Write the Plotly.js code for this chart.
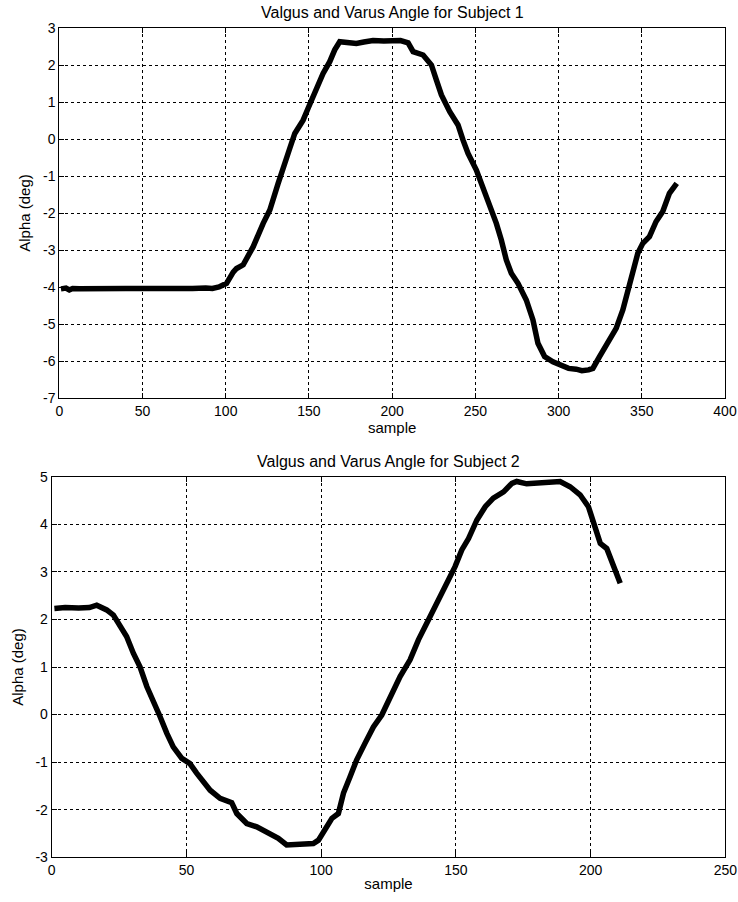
<!DOCTYPE html>
<html>
<head>
<meta charset="utf-8">
<script src="https://cdn.plot.ly/plotly-3.0.1.min.js"></script>
<style>html,body{margin:0;padding:0;background:#fff;}#chart{width:738px;height:902px;}</style>
</head>
<body>
<div id="chart"></div>
<script>
// Subject 1
const sample1 = [1, 4, 6, 8, 12, 20, 30, 40, 50, 60, 70, 80, 88, 92, 96, 100.5, 104.5, 106.5, 110.5, 116.5, 122.5, 126.5, 131.5, 134.5, 138.5, 141.5, 146.5, 149.5, 153.5, 158.5, 162.5, 165.5, 168.5, 172, 178.5, 183, 188.5, 195, 200.5, 205, 209.6, 212.6, 218.6, 223.6, 226.6, 229.6, 234.6, 239.6, 242.6, 245.6, 250.6, 254.6, 258.6, 262.6, 265.6, 268.6, 271.6, 275.6, 280.6, 284.6, 287.6, 291.6, 296.6, 302.6, 306, 310.6, 314, 318, 320.6, 324.6, 329.6, 334.6, 338.6, 341.6, 344.6, 347.6, 350.6, 354.6, 358.6, 362.6, 366.6, 371];
const alpha1 = [-4.05, -4.03, -4.08, -4.04, -4.05, -4.04, -4.03, -4.04, -4.04, -4.05, -4.03, -4.04, -4.03, -4.04, -4.0, -3.9, -3.6, -3.5, -3.4, -2.91, -2.28, -1.92, -1.2, -0.75, -0.25, 0.15, 0.51, 0.83, 1.28, 1.77, 2.09, 2.41, 2.63, 2.6, 2.58, 2.62, 2.66, 2.65, 2.66, 2.66, 2.6, 2.36, 2.27, 2.0, 1.59, 1.19, 0.74, 0.38, -0.03, -0.39, -0.84, -1.29, -1.74, -2.28, -2.73, -3.27, -3.63, -3.9, -4.35, -4.89, -5.52, -5.88, -6.02, -6.15, -6.2, -6.22, -6.26, -6.24, -6.2, -5.88, -5.52, -5.12, -4.62, -4.08, -3.54, -3.09, -2.82, -2.64, -2.23, -1.96, -1.47, -1.2];

// Subject 2
const sample2 = [1, 5, 10, 14, 16.7, 20.4, 22.9, 25.4, 27.8, 30.3, 32.8, 35.3, 37.7, 40.2, 42.7, 45.1, 48.3, 51.3, 53.8, 56.3, 58.8, 62.5, 66.8, 68.7, 72.4, 76.1, 81, 84.1, 87.2, 92.2, 97.1, 99, 101.5, 104, 106.4, 108.3, 110.7, 113.2, 116.3, 119.4, 122.5, 125.6, 129.3, 133, 136.1, 139.8, 142.9, 146.6, 149.7, 152.2, 154.7, 157.8, 160.9, 163.9, 167.7, 170.8, 172.6, 176.3, 181.3, 185, 188.7, 192.4, 196.1, 199.2, 201.1, 203.6, 206, 208.5, 211];
const alpha2 = [2.23, 2.25, 2.24, 2.25, 2.3, 2.2, 2.09, 1.88, 1.64, 1.29, 1.0, 0.59, 0.31, -0.04, -0.39, -0.68, -0.92, -1.03, -1.23, -1.41, -1.59, -1.76, -1.85, -2.08, -2.29, -2.36, -2.5, -2.6, -2.74, -2.72, -2.71, -2.64, -2.43, -2.18, -2.08, -1.65, -1.31, -0.95, -0.6, -0.26, -0.01, 0.38, 0.8, 1.15, 1.57, 1.99, 2.34, 2.76, 3.11, 3.46, 3.7, 4.09, 4.37, 4.55, 4.68, 4.86, 4.9, 4.85, 4.86, 4.88, 4.9, 4.79, 4.62, 4.37, 4.02, 3.6, 3.49, 3.11, 2.76];

// Tick labels (hyphen-minus as in the reference)
const xTicks1 = [0, 50, 100, 150, 200, 250, 300, 350, 400];
const xTicks2 = [0, 50, 100, 150, 200, 250];
const yTicks1 = [3, 2, 1, 0, -1, -2, -3, -4, -5, -6, -7];
const yTicks2 = [5, 4, 3, 2, 1, 0, -1, -2, -3];

const titles = ["Valgus and Varus Angle for Subject 1", "Valgus and Varus Angle for Subject 2"];
const xTitle = "sample";
const yTitle = "Alpha (deg)";

const FONT = "Liberation Sans, Arial, sans-serif";
const lab = v => String(v);

const traces = [
  {x: sample1, y: alpha1, type: "scatter", mode: "lines", line: {color: "#000", width: 5.5}, xaxis: "x", yaxis: "y", showlegend: false},
  {x: sample2, y: alpha2, type: "scatter", mode: "lines", line: {color: "#000", width: 5.5}, xaxis: "x2", yaxis: "y2", showlegend: false}
];

function ax(extra) {
  return Object.assign({
    showline: true, linecolor: "#000", linewidth: 1, mirror: "ticks",
    ticks: "inside", ticklen: 5, tickcolor: "#000",
    showgrid: true, gridcolor: "#000", gridwidth: 1, griddash: "3px,3px",
    zeroline: false, automargin: false, fixedrange: true,
    tickfont: {family: FONT, size: 14, color: "#000"}
  }, extra);
}
const tfont = {family: FONT, size: 15, color: "#000"};

const W = 738, H = 902;
const layout = {
  width: W, height: H,
  margin: {l: 0, r: 0, t: 0, b: 0},
  paper_bgcolor: "#fff", plot_bgcolor: "#fff",
  font: {family: FONT, size: 14, color: "#000"},
  xaxis: ax({domain: [59.3 / W, 725 / W], range: [0, 400], anchor: "y",
    tickmode: "array", tickvals: xTicks1, ticktext: xTicks1.map(lab),
    title: {text: xTitle, font: tfont, standoff: 1}}),
  yaxis: ax({domain: [1 - 398 / H, 1 - 28 / H], range: [-7, 3], anchor: "x",
    tickmode: "array", tickvals: yTicks1, ticktext: yTicks1.map(lab),
    title: {text: yTitle, font: tfont, standoff: 8}}),
  xaxis2: ax({domain: [51.7 / W, 725.3 / W], range: [0, 250], anchor: "y2",
    tickmode: "array", tickvals: xTicks2, ticktext: xTicks2.map(lab),
    title: {text: xTitle, font: tfont, standoff: 1}}),
  yaxis2: ax({domain: [1 - 857.3 / H, 1 - 476.7 / H], range: [-3, 5], anchor: "x2",
    tickmode: "array", tickvals: yTicks2, ticktext: yTicks2.map(lab),
    title: {text: yTitle, font: tfont, standoff: 8}}),
  annotations: [
    {text: titles[0], xref: "paper", yref: "paper", x: (59.3 + 725) / 2 / W, y: 1 - 13 / H, xanchor: "center", yanchor: "middle", showarrow: false, font: {family: FONT, size: 16, color: "#000"}},
    {text: titles[1], xref: "paper", yref: "paper", x: (51.7 + 725.3) / 2 / W, y: 1 - 461 / H, xanchor: "center", yanchor: "middle", showarrow: false, font: {family: FONT, size: 16, color: "#000"}}
  ]
};

Plotly.newPlot("chart", traces, layout, {staticPlot: true, displayModeBar: false});
</script>
</body>
</html>
